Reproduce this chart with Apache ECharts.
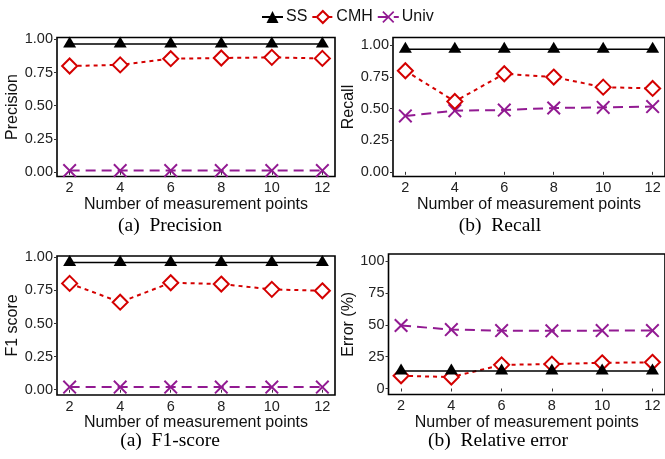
<!DOCTYPE html>
<html>
<head>
<meta charset="utf-8">
<script src="https://cdn.jsdelivr.net/npm/echarts@6/dist/echarts.min.js"></script>
<style>
  html, body { margin: 0; padding: 0; background: #fff; }
  #chart { width: 665px; height: 459px; }
</style>
</head>
<body>
<div id="chart"></div>
<script>
// x values + tick labels
var xPoints = [2, 4, 6, 8, 10, 12]
var ratioTicks = [0, 0.25, 0.5, 0.75, 1]
var errorTicks = [0, 25, 50, 75, 100]

// (a) Precision
var precSS = [0.965, 0.965, 0.965, 0.965, 0.965, 0.965]
var precCMH = [0.80, 0.808, 0.855, 0.86, 0.865, 0.857]
var precUniv = [0.01, 0.01, 0.01, 0.01, 0.01, 0.01]
// (b) Recall
var recSS = [0.97, 0.97, 0.97, 0.97, 0.97, 0.97]
var recCMH = [0.80, 0.557, 0.776, 0.75, 0.67, 0.66]
var recUniv = [0.442, 0.484, 0.489, 0.505, 0.51, 0.516]
// (a) F1-score
var f1SS = [0.96, 0.96, 0.96, 0.96, 0.96, 0.96]
var f1CMH = [0.803, 0.661, 0.808, 0.798, 0.758, 0.747]
var f1Univ = [0.02, 0.02, 0.02, 0.02, 0.02, 0.02]
// (b) Relative error (%)
var errSS = [13.7, 13.7, 13.7, 13.7, 13.7, 13.7]
var errCMH = [10, 9, 18.6, 19.2, 20.2, 20.6]
var errUniv = [49.5, 46.3, 45.5, 45.3, 45.5, 45.5]

var RED = '#D40000'
var PURPLE = '#921A92'
var xShape = 'path://M0,1L1,0L5,4L9,0L10,1L6,5L10,9L9,10L5,6L1,10L0,9L4,5Z'
var sansFont = '"Liberation Sans", Arial, sans-serif'
var serifFont = '"Liberation Serif", "Times New Roman", serif'

function pairs(ys) {
  var out = []
  for (var i = 0; i < xPoints.length; i++) out.push([xPoints[i], ys[i]])
  return out
}

function makeSeries(idx, ss, cmh, univ) {
  return [
    {
      name: 'Univ', type: 'line', xAxisIndex: idx, yAxisIndex: idx,
      symbol: xShape, symbolSize: 14,
      itemStyle: { color: PURPLE },
      lineStyle: { color: PURPLE, width: 2, type: [10, 6] },
      data: pairs(univ), z: 3
    },
    {
      name: 'CMH', type: 'line', xAxisIndex: idx, yAxisIndex: idx,
      symbol: 'diamond', symbolSize: 15,
      itemStyle: { color: '#fff', borderColor: RED, borderWidth: 2 },
      lineStyle: { color: RED, width: 2, type: [4, 4] },
      data: pairs(cmh), z: 4
    },
    {
      name: 'SS', type: 'line', xAxisIndex: idx, yAxisIndex: idx,
      symbol: 'triangle', symbolSize: [13, 11], symbolOffset: [0, -2],
      itemStyle: { color: '#000' },
      lineStyle: { color: '#000', width: 1.5 },
      data: pairs(ss), z: 5
    }
  ]
}

function makeX(idx) {
  return {
    type: 'value', gridIndex: idx, min: 1.5, max: 12.5,
    name: 'Number of measurement points', nameLocation: 'middle', nameGap: 17,
    nameTextStyle: { fontSize: 16, color: '#111', fontFamily: sansFont },
    axisLine: { show: false },
    splitLine: { show: false },
    axisTick: { show: true, length: 3, lineStyle: { color: '#333' }, customValues: xPoints },
    axisLabel: { customValues: xPoints, margin: 4, fontSize: 14.5, color: '#222', fontFamily: sansFont }
  }
}

function makeY(idx, name, lo, hi, ticks, gap, fmt) {
  return {
    type: 'value', gridIndex: idx, min: lo, max: hi,
    name: name, nameLocation: 'middle', nameGap: gap,
    nameTextStyle: { fontSize: 16, color: '#111', fontFamily: sansFont },
    axisLine: { show: false },
    splitLine: { show: false },
    axisTick: { show: true, length: 3, lineStyle: { color: '#333' }, customValues: ticks },
    axisLabel: { customValues: ticks, margin: 4, fontSize: 14.5, color: '#222', fontFamily: sansFont, formatter: fmt }
  }
}

var fixed2 = function (v) { return v.toFixed(2) }
var plain = function (v) { return String(v) }

var boxStyle = { show: true, borderColor: '#000', borderWidth: 1.6, backgroundColor: 'transparent' }

function caption(txt, x, y) {
  return { type: 'text', x: x, y: y, style: { text: txt, fontSize: 19.5, fontFamily: serifFont, fill: '#000', align: 'center', verticalAlign: 'middle' } }
}

var chart = echarts.init(document.getElementById('chart'))
var series = []
  .concat(makeSeries(0, precSS, precCMH, precUniv))
  .concat(makeSeries(1, recSS, recCMH, recUniv))
  .concat(makeSeries(2, f1SS, f1CMH, f1Univ))
  .concat(makeSeries(3, errSS, errCMH, errUniv))

chart.setOption({
  backgroundColor: '#fff',
  animation: false,
  legend: {
    data: ['SS', 'CMH', 'Univ'],
    left: 256, top: 4,
    itemWidth: 21, itemHeight: 15, itemGap: 4,
    textStyle: { fontSize: 16, color: '#111', fontFamily: sansFont, padding: [0, 0, 0, -2] }
  },
  grid: [
    Object.assign({ left: 57, top: 37.5, width: 278, height: 139 }, boxStyle),
    Object.assign({ left: 393, top: 37.5, width: 278, height: 139 }, boxStyle),
    Object.assign({ left: 57, top: 256, width: 278, height: 139 }, boxStyle),
    Object.assign({ left: 388.5, top: 254, width: 281, height: 140.5 }, boxStyle)
  ],
  xAxis: [makeX(0), makeX(1), makeX(2), makeX(3)],
  yAxis: [
    makeY(0, 'Precision', -0.035, 1.015, ratioTicks, 34, fixed2),
    makeY(1, 'Recall', -0.037, 1.063, ratioTicks, 34, fixed2),
    makeY(2, 'F1 score', -0.04, 1.01, ratioTicks, 34, fixed2),
    makeY(3, 'Error (%)', -4.7, 105.7, errorTicks, 29, plain)
  ],
  graphic: [
    caption('(a)  Precision', 170, 226),
    caption('(b)  Recall', 500, 226),
    caption('(a)  F1-score', 170, 441),
    caption('(b)  Relative error', 498, 441)
  ],
  series: series
})
</script>
</body>
</html>
